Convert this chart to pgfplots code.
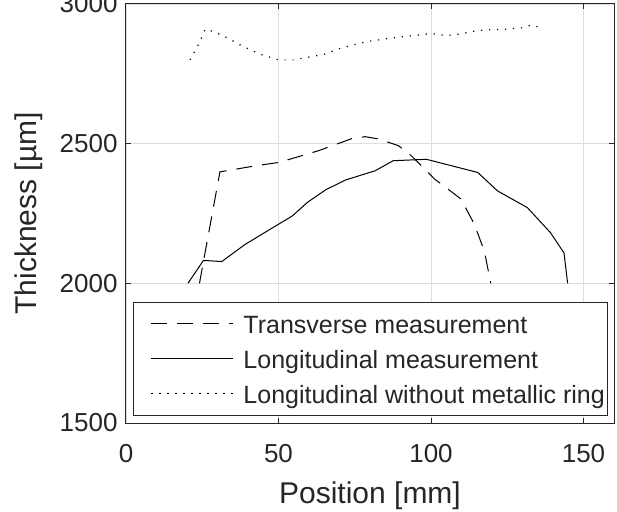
\documentclass[border=0pt]{standalone}
\usepackage{pgfplots}
\pgfplotsset{compat=1.18}
\usepackage{fontspec}
\setmainfont{Liberation Sans}
\usetikzlibrary{calc}
\definecolor{axgray}{gray}{0.15}
\definecolor{gridgray}{gray}{0.87}

\begin{document}
\begin{tikzpicture}
\begin{axis}[
  scale only axis,
  width=488bp, height=419bp,
  xmin=0, xmax=160,
  ymin=1500, ymax=3000,
  xtick={0,50,100,150},
  ytick={1500,2000,2500,3000},
  grid=major,
  major grid style={gridgray, line width=0.8bp},
  axis line style={axgray, line width=1bp},
  tick style={axgray, line width=1bp},
  tick align=inside,
  major tick length=5bp,
  xticklabel style={yshift=-18bp},
  yticklabel style={xshift=-5bp},
  ticklabel style={font=\fontsize{26bp}{30bp}\selectfont, text=axgray},
  label style={font=\fontsize{30bp}{34bp}\selectfont, text=axgray},
  /pgf/number format/assume math mode=true,
  /pgf/number format/1000 sep={},
  xlabel={Position [mm]},
  ylabel={Thickness [µm]},
  xlabel style={at={(axis description cs:0.5,-0.1914)}, anchor=base},
  ylabel style={at={(axis description cs:-0.1844,0.5)}, anchor=base},
  legend style={
    at={(axis description cs:0.0143,0.2898)}, anchor=north west,
    draw=axgray, line width=1bp,
    font=\fontsize{25bp}{30bp}\selectfont, text=axgray,
    inner xsep=3bp, inner ysep=4bp,
    row sep=0bp, column sep=0bp,
    nodes={inner sep=0pt, text height=27bp, text depth=8bp},
    legend cell align=left,
  },
  legend image code/.code={
    \path[draw=none, fill=none] (-15bp,0bp) rectangle (92bp,0.1bp);
    \draw[#1] (0bp,0bp) -- (82bp,0bp);},
]
\addplot[black, line width=1bp, dash pattern=on 16bp off 10bp] coordinates {
(24.1,2000)(25.4,2079)(30.8,2399)(42.6,2421)(50.2,2433)(63.2,2475)(74,2518)
(78.4,2525)(82.7,2517)(89.3,2493)(93.5,2457)(97.4,2415)(101.2,2373)(105.5,2338)
(109.8,2302)(114.2,2212)(117.5,2115)(119.6,2000)};
\addlegendentry{Transverse measurement}
\addplot[black, line width=1bp] coordinates {
(20.3,2000)(25.4,2082)(31.4,2078)(39,2139)(49,2205)(54.5,2241)(59.5,2290)
(65.5,2335)(72,2370)(81.7,2403)(87.6,2439)(98.5,2444)(115.3,2397)(121.8,2331)
(131.6,2271)(139.2,2181)(143.6,2109)(144.8,2000)};
\addlegendentry{Longitudinal measurement}
\addplot[black, line width=1.2bp, dash pattern=on 1.2bp off 6.8bp] coordinates {
(21,2800)(24,2860)(26,2910)(29,2900)(33,2880)(38,2850)(44,2820)(50,2800)
(55,2800)(60,2810)(65,2820)(70,2840)(75,2855)(80,2867)(85,2875)(90,2882)
(95,2888)(100,2894)(105,2887)(110,2893)(115,2905)(120,2908)(125,2910)
(130,2915)(133,2925)(137,2912)};
\addlegendentry{Longitudinal without metallic ring}
\end{axis}
\pgfresetboundingbox
\path ($(current axis.south west)+(-126bp,-89bp)$) rectangle ($(current axis.north east)+(3bp,4bp)$);
\end{tikzpicture}
\end{document}
